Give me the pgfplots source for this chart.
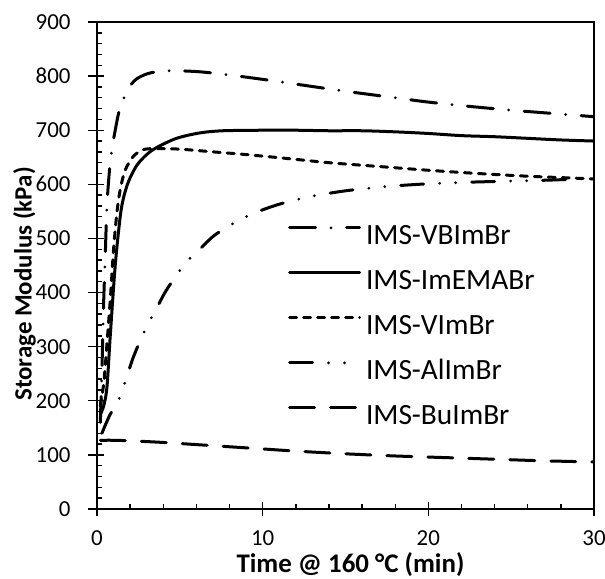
\documentclass[border=0pt]{standalone}
\usepackage{fontspec}
\setmainfont{Carlito}
\usepackage{pgfplots}
\pgfplotsset{compat=1.18}

\begin{document}
\begin{tikzpicture}
\begin{axis}[
  scale only axis, width=497bp, height=487bp,
  xmin=0, xmax=30, ymin=0, ymax=900,
  xtick={0,10,20,30}, ytick={0,100,...,900},
  minor x tick num=4, minor y tick num=4,
  tick pos=left,
  tick align=inside,
  major tick length=7bp, minor tick length=5bp,
  extra x ticks={0,10,20,30}, extra x tick labels={},
  extra x tick style={tick align=outside, major tick length=7bp},
  extra y ticks={0,100,...,900}, extra y tick labels={},
  extra y tick style={tick align=outside, major tick length=9bp},
  every tick/.style={black, line width=1.4bp},
  axis line style={line width=1.4bp},
  /pgf/number format/assume math mode=true,
  ticklabel style={font=\fontsize{23}{27}\selectfont},
  xticklabel style={anchor=north, yshift=-18bp},
  yticklabel style={anchor=east, xshift=-23bp},
  xlabel={\textbf{Time @ 160 °C (min)}},
  ylabel={\textbf{Storage Modulus (kPa)}},
  xlabel style={font=\fontsize{27}{32}\selectfont, at={(axis description cs:0.51,0)}, anchor=base, yshift=-63bp},
  ylabel style={font=\fontsize{25}{30}\selectfont, at={(axis description cs:0,0.462)}, anchor=center, yshift=72.5bp},
  legend style={at={(axis description cs:0.384,0.587)}, anchor=north west,
    draw=none, fill=none, inner sep=0pt, row sep=17bp,
    font=\fontsize{29.5}{34}\selectfont,
    nodes={inner sep=0pt, text height=21bp, text depth=7bp}},
  legend cell align=left,
  /tikz/every odd column/.append style={column sep=5bp},
  legend image code/.code={\draw[#1] (0bp,9.5bp) -- (70bp,9.5bp);},
  every axis plot/.append style={line width=3bp, line cap=round, black},
]
\addplot[smooth, dash pattern=on 26bp off 15.5bp on 0bp off 15.5bp] coordinates {
(0.2,160)(0.3,260)(0.4,380)(0.5,470)(0.6,560)(0.75,625)(0.9,665)(1.1,700)(1.35,737)(1.7,765)(2.0,782)(2.4,795)(3.0,804)(3.6,808)(4.6,810)(6.2,808)(8,802)(10,794)(12.5,783)(15,772)(17.5,762)(20,752)(22.5,744)(25,737)(27.5,731)(30,725)};
\addlegendentry{IMS-VBImBr}
\addplot[smooth] coordinates {
(0.2,175)(0.4,190)(0.6,225)(0.8,320)(1.1,450)(1.4,540)(1.6,575)(1.9,605)(2.4,635)(3.0,655)(3.6,668)(4.8,685)(6.2,695)(7.6,699)(10,700)(12,700)(14,699)(16,699)(18,697)(20,694)(22,690)(24,688)(26,685)(28,682)(30,680)};
\addlegendentry{IMS-ImEMABr}
\addplot[smooth, dash pattern=on 7bp off 7bp] coordinates {
(0.2,190)(0.4,230)(0.5,265)(0.8,386)(1.0,480)(1.2,547)(1.4,590)(1.7,626)(2.2,652)(2.8,664)(3.5,666)(5,665)(7,660)(9,655)(11.4,648)(14,640)(17,633)(20,626)(23,620)(26,615)(30,610)};
\addlegendentry{IMS-VImBr}
\addplot[smooth, dash pattern=on 23bp off 16bp on 0bp off 16bp on 0bp off 16bp] coordinates {
(0.3,140)(0.5,155)(0.8,175)(1.3,201)(1.7,235)(2.2,281)(2.9,331)(3.7,377)(4.2,405)(5.1,445)(5.7,466)(6.4,486)(7.1,506)(8.4,531)(9.2,543)(10.1,554)(11.2,565)(13,578)(15,588)(17.5,596)(20,601)(22.5,604)(25,606)(27.5,608)(30,611)};
\addlegendentry{IMS-AlImBr}
\addplot[smooth, dash pattern=on 25bp off 16bp] coordinates {
(0.2,127)(1,127)(2,126)(4,123)(6,119)(8,115)(10,111)(12,107)(15,102)(18,98)(21,95)(24,92)(27,89)(30,87)};
\addlegendentry{IMS-BuImBr}
\end{axis}
\pgfresetboundingbox
\path[use as bounding box] ([xshift=-97bp,yshift=-70bp]current axis.south west) rectangle ([xshift=11bp,yshift=22bp]current axis.north east);
\end{tikzpicture}
\end{document}
